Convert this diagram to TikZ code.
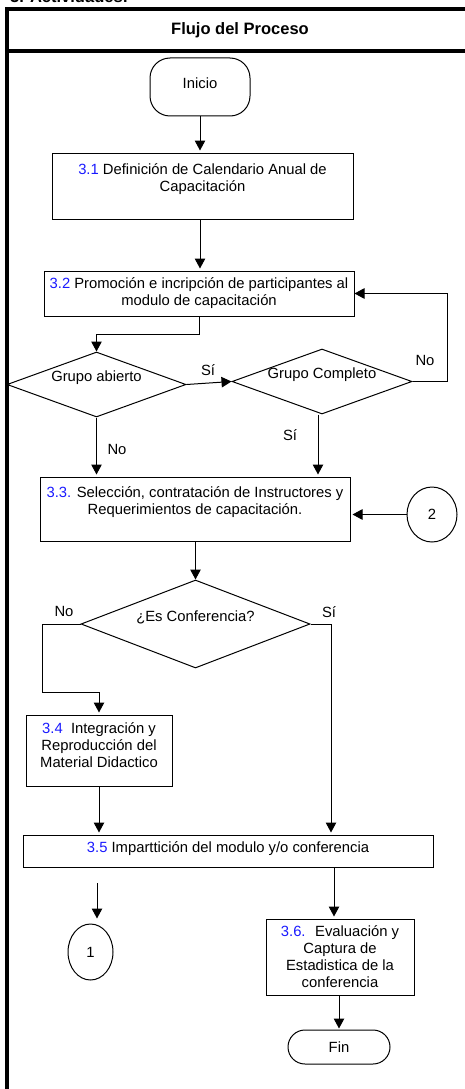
\documentclass[tikz,border=0pt]{standalone}
\usepackage{fontspec}
\setmainfont{Liberation Sans}
\usetikzlibrary{shapes.geometric,arrows.meta}
\definecolor{numblue}{RGB}{25,25,255}
\newcommand{\numc}[1]{\textcolor{numblue}{#1}}
\begin{document}
\begin{tikzpicture}[x=1pt,y=-1pt,
  every node/.style={font=\fontsize{14.8}{17}\selectfont},
  box/.style={draw, line width=1pt, rectangle, inner sep=0pt, align=center},
  dia/.style={draw, diamond, line width=1pt, inner sep=0pt},
  term/.style={draw, line width=1pt, rectangle, inner sep=0pt},
  conn/.style={draw, ellipse, line width=1pt, inner sep=0pt},
  arr/.style={line width=1pt, -{Triangle[width=10.5pt,length=10pt]}},
  ln/.style={line width=1pt},
  lbl/.style={inner sep=0pt},
  frame/.style={line width=4pt},
  hdrfont/.style={font=\bfseries\fontsize{16.5}{19}\selectfont}]
\useasboundingbox (0,0) rectangle (465,1089);
% frame
\draw[frame] (7,1095) -- (7,9) -- (470,9);
\draw[frame] (5,51) -- (470,51);
\node[hdrfont, anchor=base west, inner sep=0pt] (act) at (10,3) {3. Actividades:};
\node[hdrfont] (hdr) at (240,30) {Flujo del Proceso};
% nodes
\node[term, rounded corners=20pt, minimum width=100pt, minimum height=58pt, text depth=8pt] (ini) at (200,87) {Inicio};
\node[box, minimum width=301pt, minimum height=66pt] (b31) at (202.5,186)
  {\numc{3.1} Definición de Calendario Anual de\\Capacitación\\\mbox{}};
\node[box, minimum width=310pt, minimum height=45pt] (b32) at (199,293.5)
  {\numc{3.2} Promoción e incripción de participantes al\\modulo de capacitación};
\node[dia, minimum width=179pt, minimum height=65pt, label={[yshift=7pt]center:Grupo abierto}] (d1) at (96.5,384.5) {};
\node[dia, minimum width=180pt, minimum height=65pt, label={[yshift=7pt]center:Grupo Completo}] (d2) at (322,381.5) {};
\node[box, minimum width=310pt, minimum height=64pt] (b33) at (195,509)
  {\numc{3.3.} Selección, contratación de Instructores y\\Requerimientos de capacitación.\\\mbox{}};
\node[conn, minimum width=50pt, minimum height=55pt] (c2) at (432,514.5) {2};
\node[dia, minimum width=229pt, minimum height=88pt, label={[yshift=7pt]center:¿Es Conferencia?}] (d3) at (195.5,624) {};
\node[box, minimum width=146pt, minimum height=71pt] (b34) at (99,750.5)
  {\numc{3.4}~ Integración y\\Reproducción del\\Material Didactico\\[-6pt]\mbox{}};
\node[box, minimum width=410pt, minimum height=32pt] (b35) at (228,851)
  {\numc{3.5} Imparttición del modulo y/o conferencia\\[-9pt]\mbox{}};
\node[conn, minimum width=45pt, minimum height=56pt] (c1) at (90.5,952) {1};
\node[box, minimum width=148pt, minimum height=76pt] (b36) at (340,957)
  {\numc{3.6.}~ Evaluación y\\Captura de\\Estadistica de la\\conferencia};
\node[term, rounded corners=17pt, minimum width=102pt, minimum height=34pt] (fin) at (339,1047) {Fin};
% labels
\node[lbl] (si1) at (208,370) {Sí};
\node[lbl] (no1) at (425,360) {No};
\node[lbl] (no2) at (117,449) {No};
\node[lbl] (si2) at (290,435) {Sí};
\node[lbl] (no3) at (64,611) {No};
\node[lbl] (si3) at (329,612) {Sí};
% coordinates
\coordinate (sx) at (331,624);
\coordinate (a1) at (97,883);
% connectors
\draw[arr, shorten >=2pt] (ini.south) -- (ini.south |- b31.north);
\draw[arr, shorten >=2pt] (ini.south |- b31.south) -- (ini.south |- b32.north);
\draw[arr] (b32.south) -- ++(0,18) -| (d1.north);
\draw[arr] (d1.east) -- (d2.west);
\draw[arr] (d2.east) -- ++(35,0) |- (b32.east);
\draw[arr, shorten >=2pt] (d1.south) -- (d1.south |- b33.north);
\draw[arr, shorten >=2pt] ([xshift=-4pt]d2.south) -- ([xshift=-4pt]d2.south |- b33.north);
\draw[arr, shorten >=2pt] (c2.west) -- (c2.west -| b33.east);
\draw[arr] (d3.north |- b33.south) -- (d3.north);
\draw[arr, shorten >=2pt] (d3.west) -- ++(-38,0) -- ++(0,68) -| (b34.north);
\draw[arr, shorten >=2pt] (d3.east) -- (sx) -- (sx |- b35.north);
\draw[arr, shorten >=2pt] (b34.south) -- (b34.south |- b35.north);
\draw[arr, shorten >=5pt] (a1) -- (a1 |- c1.north);
\draw[arr, shorten >=2pt] ([xshift=-6pt]b36.north |- b35.south) -- ([xshift=-6pt]b36.north);
\draw[arr, shorten >=1pt] (fin.north |- b36.south) -- (fin.north);
\end{tikzpicture}
\end{document}
